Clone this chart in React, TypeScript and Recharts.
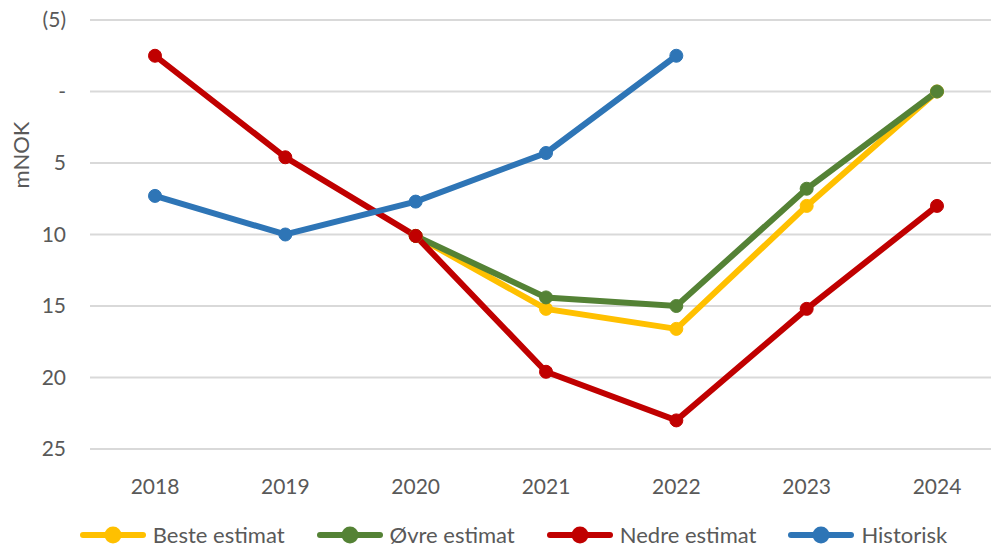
import { CartesianGrid, Line, LineChart, XAxis, YAxis } from "recharts";

const years = ["2018", "2019", "2020", "2021", "2022", "2023", "2024"];
const beste = [null, null, 10.1, 15.2, 16.6, 8.0, 0];
const ovre = [null, null, 10.1, 14.4, 15.0, 6.8, 0];
const nedre = [-2.5, 4.6, 10.1, 19.6, 23.0, 15.2, 8.0];
const historisk = [7.3, 10.0, 7.7, 4.3, -2.5, null, null];
const yTicks = [-5, 0, 5, 10, 15, 20, 25];

const series = [
  { key: "beste", name: "Beste estimat", color: "#FFC000", values: beste },
  { key: "ovre", name: "Øvre estimat", color: "#548235", values: ovre },
  { key: "nedre", name: "Nedre estimat", color: "#C00000", values: nedre },
  { key: "historisk", name: "Historisk", color: "#2E75B6", values: historisk },
];

const data = years.map((year, i) => {
  const row: Record<string, string | number | null> = { year };
  series.forEach((s) => (row[s.key] = s.values[i]));
  return row;
});

const FONT = "Lato, 'Open Sans', sans-serif";
const TEXT = "#595959";
const GRID = "#D9D9D9";

const fmtY = (v: number) => (v < 0 ? `(${-v})` : v === 0 ? "-" : `${v}`);

export default function App() {
  return (
    <div style={{ position: "relative", width: 991, height: 548, fontFamily: FONT }}>
      <style>{`body{margin:0}`}</style>
      <LineChart
        width={991}
        height={548}
        data={data}
        margin={{ top: 20, right: 0, left: 0, bottom: 69 }}
      >
        <CartesianGrid stroke={GRID} strokeWidth={2} vertical={false} />
        <XAxis
          dataKey="year"
          padding={{ left: 65, right: 54 }}
          stroke={GRID}
          strokeWidth={2}
          tickLine={false}
          tickSize={0}
          tickMargin={30}
          tick={{ fill: TEXT, fontSize: 21, fontFamily: FONT }}
          interval={0}
        />
        <YAxis
          width={90}
          reversed
          domain={[-5, 25]}
          ticks={yTicks}
          interval={0}
          axisLine={false}
          tickLine={false}
          tickSize={0}
          tickMargin={24}
          tickFormatter={fmtY}
          tick={{ fill: TEXT, fontSize: 21, fontFamily: FONT }}
          label={{
            content: () => (
              <text
                x={29}
                y={155}
                transform="rotate(-90 29 155)"
                textAnchor="middle"
                fill={TEXT}
                fontSize={22}
                fontFamily={FONT}
              >
                mNOK
              </text>
            ),
          }}
        />
        {series.map((s) => (
          <Line
            key={s.key}
            dataKey={s.key}
            name={s.name}
            stroke={s.color}
            strokeWidth={6}
            dot={{ r: 6.5, fill: s.color, stroke: s.color, strokeWidth: 1 }}
            activeDot={false}
            isAnimationActive={false}
          />
        ))}
      </LineChart>
      <div
        style={{
          position: "absolute",
          top: 520,
          left: 0,
          width: 991,
          display: "flex",
          justifyContent: "center",
          gap: 32,
          paddingLeft: 36,
          boxSizing: "border-box",
        }}
      >
        {series.map((s) => (
          <div key={s.key} style={{ display: "flex", alignItems: "center", gap: 7 }}>
            <svg width={66} height={20}>
              <line x1={3} y1={10} x2={63} y2={10} stroke={s.color} strokeWidth={6} strokeLinecap="round" />
              <circle cx={33} cy={10} r={8.5} fill={s.color} />
            </svg>
            <span style={{ color: TEXT, fontSize: 22, lineHeight: "30px" }}>{s.name}</span>
          </div>
        ))}
      </div>
    </div>
  );
}
